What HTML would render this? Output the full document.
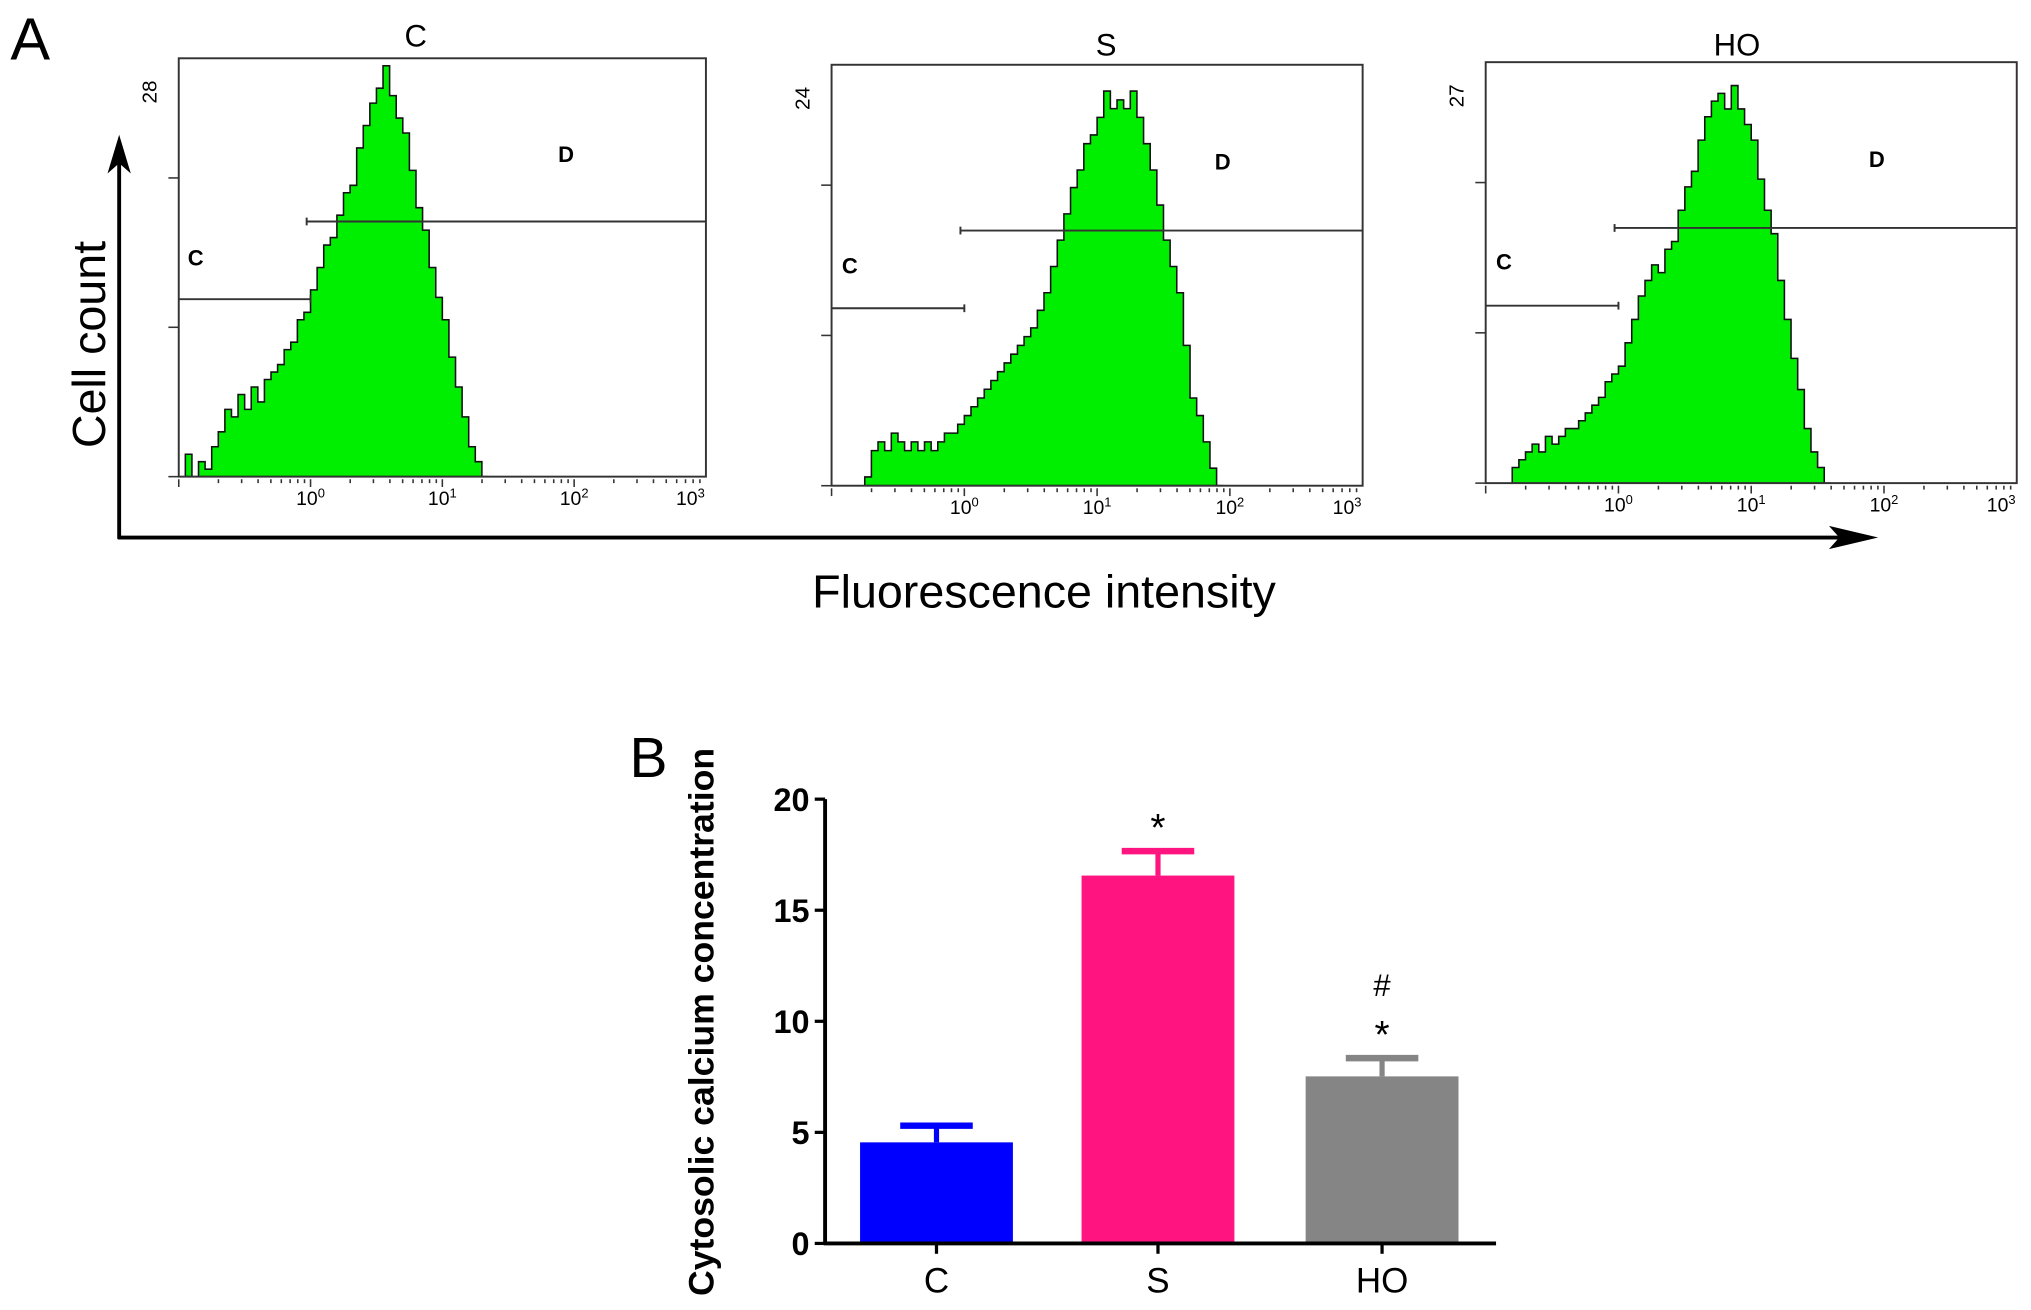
<!DOCTYPE html>
<html><head><meta charset="utf-8"><style>
html,body{margin:0;padding:0;background:#fff}
svg{display:block}
text{font-family:"Liberation Sans",Arial,sans-serif}
</style></head><body>
<svg id="fig" width="2031" height="1310" viewBox="0 0 1568 1011.4" preserveAspectRatio="none" xmlns="http://www.w3.org/2000/svg">
<g id="panelA">
<text x="8" y="46" font-size="46">A</text>
<line x1="92" y1="416" x2="92" y2="118" stroke="#000" stroke-width="3"/>
<polygon points="92,104 83,134 92,126 101,134" fill="#000"/>
<line x1="91" y1="415" x2="1435" y2="415" stroke="#000" stroke-width="3"/>
<polygon points="1450,415 1412,406 1420,415 1412,424" fill="#000"/>
<text transform="translate(81,266) rotate(-90)" font-size="36" text-anchor="middle">Cell count</text>
<text x="806" y="469" font-size="36" text-anchor="middle">Fluorescence intensity</text>
</g>
<g id="panelB">
<text x="486" y="600" font-size="44">B</text>
</g>
</svg>
<script>
// ---- Histogram data (counts per 0.05-decade bin) ----
var h1Start = -0.95;
var h1Counts = [1.5,0,1,0.5,2,3,4.5,4,5.5,4.5,6,5,6.5,7,7.5,8.5,9,10.5,11,12.5,14,15.5,16,17.5,19,19.5,22,23.5,25,26,27.5,25.5,24,23,20.5,18,16.5,14,12,10.5,8,6,4,2,1,0];
var h2Start = -0.75;
var h2Counts = [0.5,2,2.5,2,3,2.5,2,2.5,2,2.5,2,2.5,3,3,3.5,4,4.5,5,5.5,6,6.5,7,7.5,8,8.5,9,10,11,12.5,14,15.5,17,18,19.5,20,21,22.5,21.5,22,21.5,22.5,21,19.5,18,16,14,12.5,11,8,5,4,2.5,1,0];
var h3Start = -0.8;
var h3Counts = [1,1.5,2,2.5,2,3,2.5,3,3.5,3.5,4,4.5,5,5.5,6.5,7,7.5,9,10.5,12,13,14,13.5,15,15.5,17.5,19,20,22,23.5,24.5,25,24,25.5,24,23,22,19.5,17.5,16,13,10.5,8,6,3.5,2,1,0];
var histTitles = ["C","S","HO"];
var histMax = ["28","24","27"];
var decadeLabels = ["0","1","2","3"];
// ---- Bar chart data ----
var barCats = ["C","S","HO"];
var barMeans = [4.55,16.56,7.52];
var barErrs = [0.75,1.1,0.82];
var barColors = ["#0000ff","#ff1480","#858585"];
var yTicks = [0,5,10,15,20];
var barMarks = ["","*","*"];
var barMarks2 = ["","","#"];

var NS="http://www.w3.org/2000/svg";
var svg=document.getElementById('fig');
function mk(tag,attrs,parent,txt){var e=document.createElementNS(NS,tag);for(var k in attrs)e.setAttribute(k,attrs[k]);if(txt!==undefined)e.textContent=txt;(parent||svg).appendChild(e);return e;}

var panels=[
 {x0:138,x1:545,top:45,base:368,counts:h1Counts,start:h1Start,max:28,tx:321,ty:36,gy1:231,gy2:171,cl:[145,205],dl:[437,125]},
 {x0:642,x1:1052,top:50,base:375,counts:h2Counts,start:h2Start,max:24,tx:854,ty:43,gy1:238,gy2:178,cl:[650,211],dl:[944,131]},
 {x0:1147,x1:1557,top:48,base:373,counts:h3Counts,start:h3Start,max:27,tx:1341,ty:43,gy1:236,gy2:176,cl:[1155,208],dl:[1449,129]}
];
var pA=document.getElementById('panelA');
panels.forEach(function(p,i){
  var g=mk('g',{},pA);
  
  
  function xs(l){return p.x0+(l+1)/4*(p.x1-p.x0);}
  function ys(c){return p.base-c/p.max*(p.base-p.top);}
  var d='M'+xs(p.start)+','+p.base;
  for(var j=0;j<p.counts.length;j++){var l=p.start+j*0.05;d+=' L'+xs(l)+','+ys(p.counts[j])+' L'+xs(l+0.05)+','+ys(p.counts[j]);}
  d+=' L'+xs(p.start+p.counts.length*0.05)+','+p.base+' Z';
  var hp=mk('path',{d:d,fill:'#00ee00',stroke:'#111','stroke-width':1.2},g);
  
  
  var box=mk('rect',{x:p.x0,y:p.top,width:p.x1-p.x0,height:p.base-p.top,fill:'none',stroke:'#333','stroke-width':1.5},g);
  
  
  var t=mk('text',{x:p.tx,y:p.ty,'font-size':24,'text-anchor':'middle'},g,histTitles[i]);
  
  
  var mx=mk('text',{transform:'translate('+(p.x0-17)+','+(p.top+26)+') rotate(-90)','font-size':16,'text-anchor':'middle'},g,histMax[i]);
  
  
  [0,1,2].forEach(function(k){var y=p.base-k*(p.base-p.top)*0.357;mk('line',{x1:p.x0-8,x2:p.x0,y1:y,y2:y,stroke:'#333','stroke-width':1.2},g);});
  for(var dd=-1;dd<3;dd++){for(var m=1;m<=9;m++){var x=xs(dd+Math.log10(m));mk('line',{x1:x,x2:x,y1:p.base+2,y2:p.base+(m==1?8:5),stroke:'#333','stroke-width':1.2},g);}}
  decadeLabels.forEach(function(lab,k){
    var tt=mk('text',{x:xs(k)-(k==3?12:0),y:p.base+22,'font-size':15,'text-anchor':'middle'},g);
    
    
    tt.textContent='10';
    mk('tspan',{dy:-6,'font-size':10},tt,lab);
  });
  var g1=mk('line',{x1:p.x0,x2:xs(0),y1:p.gy1,y2:p.gy1,stroke:'#333','stroke-width':1.5},g);
  
  
  mk('line',{x1:xs(0),x2:xs(0),y1:p.gy1-3,y2:p.gy1+3,stroke:'#333','stroke-width':1.5},g);
  var g2=mk('line',{x1:xs(0)-3,x2:p.x1,y1:p.gy2,y2:p.gy2,stroke:'#333','stroke-width':1.5},g);
  
  
  mk('line',{x1:xs(0)-3,x2:xs(0)-3,y1:p.gy2-3,y2:p.gy2+3,stroke:'#333','stroke-width':1.5},g);
  var cl=mk('text',{x:p.cl[0],y:p.cl[1],'font-size':17,'font-weight':'bold'},g,'C');
  
  
  var dl=mk('text',{x:p.dl[0],y:p.dl[1],'font-size':17,'font-weight':'bold','text-anchor':'middle'},g,'D');
  
  
});

// ---- Bar chart ----
var pB=document.getElementById('panelB');
var ax={x:637,y0:960,y20:617,xEnd:1155};
function yv(v){return ax.y0-(v/20)*(ax.y0-ax.y20);}
var bx=[664,835,1008], bw=118;
barCats.forEach(function(c,i){
  var g=mk('g',{},pB);
  
  
  var cx=bx[i]+bw/2;
  var eb=mk('line',{x1:cx,x2:cx,y1:yv(barMeans[i]),y2:yv(barMeans[i]+barErrs[i]),stroke:barColors[i],'stroke-width':4},g);
  
  
  var cap=mk('line',{x1:cx-28,x2:cx+28,y1:yv(barMeans[i]+barErrs[i]),y2:yv(barMeans[i]+barErrs[i]),stroke:barColors[i],'stroke-width':5},g);
  
  
  var r=mk('rect',{x:bx[i],y:yv(barMeans[i]),width:bw,height:yv(0)-yv(barMeans[i]),fill:barColors[i]},g);
  
  
  mk('line',{x1:cx,x2:cx,y1:ax.y0,y2:ax.y0+8,stroke:'#000','stroke-width':2.5},g);
  var lb=mk('text',{x:cx,y:ax.y0+38,'font-size':27,'text-anchor':'middle'},g,c);
  
  
  if(barMarks[i]){var s=mk('text',{x:cx,y:yv(barMeans[i]+barErrs[i])-8,'font-size':30,'text-anchor':'middle'},g,barMarks[i]);
    
    }
  if(barMarks2[i]){var s2=mk('text',{x:cx,y:yv(barMeans[i]+barErrs[i])-48,'font-size':24,'text-anchor':'middle'},g,barMarks2[i]);
    
    }
});
var yaxis=mk('line',{x1:ax.x,x2:ax.x,y1:ax.y20,y2:ax.y0+1,stroke:'#000','stroke-width':3},pB);


var xaxis=mk('line',{x1:ax.x-1,x2:ax.xEnd,y1:ax.y0,y2:ax.y0,stroke:'#000','stroke-width':3},pB);


yTicks.forEach(function(v){
  mk('line',{x1:ax.x-8,x2:ax.x,y1:yv(v),y2:yv(v),stroke:'#000','stroke-width':2.5},pB);
  var t=mk('text',{x:ax.x-12,y:yv(v)+9,'font-size':25,'font-weight':'bold','text-anchor':'end'},pB,String(v));
  
  
});
var yt=mk('text',{transform:'translate(551,789) rotate(-90)','font-size':27.5,'font-weight':'bold','text-anchor':'middle'},pB,'Cytosolic calcium concentration');


</script>
</body></html>
